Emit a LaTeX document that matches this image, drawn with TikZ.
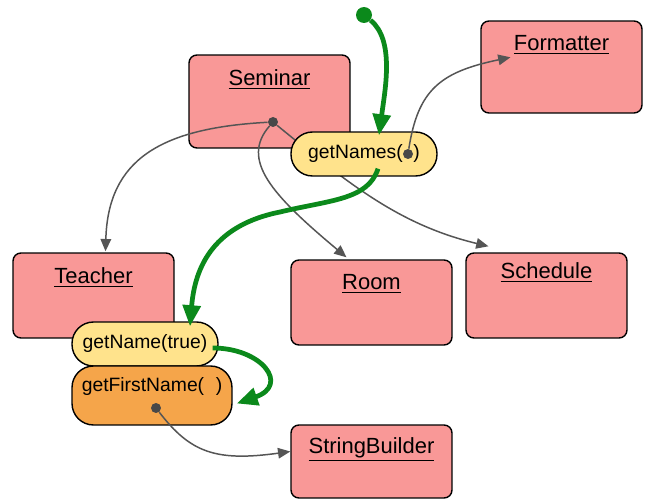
\documentclass[tikz,border=0pt]{standalone}
\usepackage{fontspec}
\setmainfont{Liberation Sans}
\usetikzlibrary{arrows.meta,positioning,calc}
\definecolor{classred}{HTML}{F99897}
\definecolor{callyel}{HTML}{FFE38C}
\definecolor{callorg}{HTML}{F5A54A}
\definecolor{flow}{HTML}{0B891B}
\definecolor{linkgray}{HTML}{555555}

\tikzset{
  cls/.style={draw=black,fill=classred,rounded corners=4.5pt,line width=.8pt,minimum width=3.22cm,inner sep=0pt},
  clsname/.style={font=\fontsize{12.5}{15}\selectfont,inner sep=0pt},
  call/.style={draw=black,line width=.8pt,rounded corners=.43cm,minimum width=2.92cm,minimum height=.88cm,inner sep=0pt,font=\fontsize{11}{13}\selectfont},
  link/.style={linkgray,line width=.85pt,-{Triangle[length=7pt,width=6pt]}},
  flowline/.style={flow,line width=2.7pt,-{Triangle[length=12pt,width=10pt]}},
  pin/.style={circle,fill=linkgray!85!black,inner sep=0pt,minimum size=.2cm},
}

\begin{document}
\begin{tikzpicture}[x=0.02cm,y=-0.02cm]
\useasboundingbox (0,0) rectangle (650,500);
% classes
\node[cls,minimum height=1.86cm] (seminar) at (269.5,101.5) {};
\node[cls,minimum height=1.84cm] (formatter) at (561.5,67) {};
\node[cls,minimum height=1.7cm] (teacher) at (93.5,295.5) {};
\node[cls,minimum height=1.7cm] (room) at (371.5,302.5) {};
\node[cls,minimum height=1.7cm] (schedule) at (546.5,295.5) {};
\node[cls,minimum height=1.46cm] (sbuilder) at (371.5,461.5) {};
\node[clsname] (seminar-name) at ($(seminar.north)+(0,25)$) {\underline{Seminar}};
\node[clsname] (formatter-name) at ($(formatter.north)+(0,25)$) {\underline{Formatter}};
\node[clsname] (teacher-name) at ($(teacher.north)+(0,25)$) {\underline{Teacher}};
\node[clsname] (room-name) at ($(room.north)+(0,25)$) {\underline{Room}};
\node[clsname] (schedule-name) at ($(schedule.north)+(0,20)$) {\underline{Schedule}};
\node[clsname] (sbuilder-name) at ($(sbuilder.north)+(0,25)$) {\underline{StringBuilder}};

% references held by Seminar (run under the call)
\node[pin] (semdot) at (273,122) {};
\draw[link] (semdot) .. controls (160,128) and (108,160) .. ($(teacher.north)+(12,-1)$);
\draw[link] (semdot) .. controls (240,160) and (272,195) .. ($(room.north)+(-25,-2)$);
\draw[link] (semdot) .. controls (350,185) and (400,225) .. ($(schedule.north)+(-58,-6)$);

% calls
\node[call,fill=callyel] (getnames) at (364,154) {getNames(\hspace{.55em})};
\node[call,fill=callyel] (getname) at (145,344) {getName(true)};
\node[call,fill=callorg,minimum width=3.2cm,minimum height=1.18cm] (getfirst) at (152,395.5) {};
\node[font=\fontsize{11}{13}\selectfont,inner sep=0pt] (getfirst-name) at ($(getfirst.center)+(0,-9)$) {getFirstName(\hspace{.6em})};

% references used inside the calls
\node[pin] (namesdot) at ($(getnames.center)+(44,0)$) {};
\node[pin] (firstdot) at ($(getfirst.center)+(4,12.5)$) {};
\draw[link] (namesdot) .. controls (418,90) and (440,72) .. ($(formatter.north)+(-51,37)$);
\draw[link] (firstdot) .. controls (190,452) and (215,462) .. ($(sbuilder.west)+(0,-10)$);

% control flow
\node[circle,fill=flow,inner sep=0pt,minimum size=.32cm] (start) at (364,15) {};
\draw[flowline] (start) .. controls (395,40) and (385,90) .. ($(getnames.north)+(15,4)$);
\draw[flowline] ($(getnames.south)+(14,-8)$) .. controls (368,200) and (330,200) .. (280,212)
  .. controls (215,225) and (195,265) .. ($(getname.north)+(45,5)$);
\draw[flowline] ($(getname.east)+(-6,4)$) .. controls (262,348) and (290,385) .. ($(getfirst.east)+(4,8)$);
\end{tikzpicture}
\end{document}
